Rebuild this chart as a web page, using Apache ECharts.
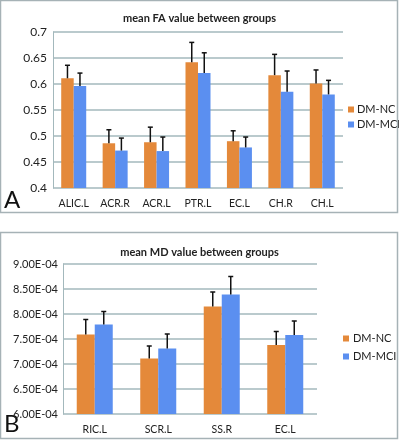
<!DOCTYPE html>
<html>
<head>
<meta charset="utf-8">
<script src="https://cdn.jsdelivr.net/npm/echarts@6/dist/echarts.min.js"></script>
<style>
  html, body { margin: 0; padding: 0; background: #fff; }
  #main { width: 399px; height: 440px; }
</style>
</head>
<body>
<div id="main"></div>
<script>
// panel A: mean FA
var faCats = ['ALIC.L', 'ACR.R', 'ACR.L', 'PTR.L', 'EC.L', 'CH.R', 'CH.L'];
var faNC = [0.611, 0.486, 0.488, 0.642, 0.490, 0.617, 0.601];
var faNCErr = [0.636, 0.512, 0.517, 0.680, 0.510, 0.657, 0.627];
var faMCI = [0.596, 0.472, 0.471, 0.621, 0.478, 0.585, 0.580];
var faMCIErr = [0.621, 0.496, 0.498, 0.660, 0.498, 0.625, 0.607];

// panel B: mean MD
var mdCats = ['RIC.L', 'SCR.L', 'SS.R', 'EC.L'];
var mdNC = [7.59e-4, 7.11e-4, 8.15e-4, 7.38e-4];
var mdNCErr = [7.89e-4, 7.36e-4, 8.44e-4, 7.65e-4];
var mdMCI = [7.79e-4, 7.31e-4, 8.39e-4, 7.58e-4];
var mdMCIErr = [8.05e-4, 7.60e-4, 8.75e-4, 7.86e-4];

var orange = '#E4893A';
var blue = '#5B8FF0';
var gridColor = '#A3B8BC';
var font = 'Lato';

var chart = echarts.init(document.getElementById('main'), null, { renderer: 'canvas' });

// upper error whisker, shifted to the bar centre
function errSeries(name, mean, upper, xi, yi, shift) {
  var d = [];
  for (var i = 0; i < mean.length; i++) d.push([i, mean[i], upper[i]]);
  return {
    name: name,
    type: 'custom',
    xAxisIndex: xi,
    yAxisIndex: yi,
    z: 5,
    silent: true,
    renderItem: function (params, api) {
      var p0 = api.coord([api.value(0), api.value(1)]);
      var p1 = api.coord([api.value(0), api.value(2)]);
      var x = p0[0] + shift;
      var st = { stroke: '#111', lineWidth: 1.5 };
      return {
        type: 'group',
        children: [
          { type: 'line', shape: { x1: x, y1: p0[1], x2: x, y2: p1[1] }, style: st },
          { type: 'line', shape: { x1: x - 2.5, y1: p1[1], x2: x + 2.5, y2: p1[1] }, style: st }
        ]
      };
    },
    data: d
  };
}

var bwA = 12.5, bwB = 18;

var option = {
  backgroundColor: '#fff',
  animation: false,
  textStyle: { fontFamily: font },
  title: [
    { text: 'mean FA value between groups', left: 'center', top: 8,
      textStyle: { fontSize: 11, fontWeight: 'bold', color: '#222', fontFamily: font } },
    { text: 'mean MD value between groups', left: 'center', top: 242,
      textStyle: { fontSize: 11, fontWeight: 'bold', color: '#222', fontFamily: font } }
  ],
  legend: [
    { data: ['DM-NC', 'DM-MCI'], orient: 'vertical', left: 343, top: 99, itemGap: 4,
      itemWidth: 6, itemHeight: 6, icon: 'rect',
      textStyle: { fontSize: 11, color: '#222', padding: [0, 0, 0, -2] } },
    { data: ['DM-NC', 'DM-MCI'], orient: 'vertical', left: 338, top: 328, itemGap: 7,
      itemWidth: 6, itemHeight: 6, icon: 'rect',
      textStyle: { fontSize: 11, color: '#222', padding: [0, 0, 0, -1] } }
  ],
  grid: [
    { left: 53, top: 32, width: 290, height: 156 },
    { left: 63, top: 264, width: 254, height: 150 }
  ],
  xAxis: [
    { type: 'category', gridIndex: 0, data: faCats,
      axisLine: { show: false }, axisTick: { show: false },
      axisLabel: { fontSize: 10.5, color: '#222', margin: 10 } },
    { type: 'category', gridIndex: 1, data: mdCats,
      axisLine: { show: false }, axisTick: { show: false },
      axisLabel: { fontSize: 10.5, color: '#222', margin: 10 } }
  ],
  yAxis: [
    { type: 'value', gridIndex: 0, min: 0.4, max: 0.7, interval: 0.05,
      axisLine: { show: true, lineStyle: { color: gridColor, width: 1 } },
      axisTick: { show: false },
      splitLine: { lineStyle: { color: gridColor, width: 1.5 } },
      axisLabel: { fontSize: 12, color: '#222', margin: 6,
        formatter: function (v) { return String(+v.toFixed(2)); } } },
    { type: 'value', gridIndex: 1, min: 6e-4, max: 9e-4, interval: 0.5e-4,
      axisLine: { show: true, lineStyle: { color: gridColor, width: 1 } },
      axisTick: { show: false },
      splitLine: { lineStyle: { color: gridColor, width: 1.5 } },
      axisLabel: { fontSize: 11, color: '#222', margin: 5,
        formatter: function (v) {
          var s = v.toExponential(2).toUpperCase();
          return s.replace(/E([+-])(\d)$/, 'E$10$2');
        } } }
  ],
  series: [
    { name: 'DM-NC', type: 'bar', xAxisIndex: 0, yAxisIndex: 0, barWidth: bwA, barGap: '0%',
      itemStyle: { color: orange }, data: faNC },
    { name: 'DM-MCI', type: 'bar', xAxisIndex: 0, yAxisIndex: 0, barWidth: bwA, barGap: '0%',
      itemStyle: { color: blue }, data: faMCI },
    { name: 'DM-NC', type: 'bar', xAxisIndex: 1, yAxisIndex: 1, barWidth: bwB, barGap: '0%',
      itemStyle: { color: orange }, data: mdNC },
    { name: 'DM-MCI', type: 'bar', xAxisIndex: 1, yAxisIndex: 1, barWidth: bwB, barGap: '0%',
      itemStyle: { color: blue }, data: mdMCI },
    errSeries('errA1', faNC, faNCErr, 0, 0, -bwA / 2),
    errSeries('errA2', faMCI, faMCIErr, 0, 0, bwA / 2),
    errSeries('errB1', mdNC, mdNCErr, 1, 1, -bwB / 2),
    errSeries('errB2', mdMCI, mdMCIErr, 1, 1, bwB / 2)
  ],
  graphic: [
    { type: 'rect', shape: { x: 0.5, y: 0.5, width: 397, height: 212 },
      style: { fill: null, stroke: '#A6B2B6', lineWidth: 1.5 } },
    { type: 'rect', shape: { x: 0.5, y: 232.5, width: 397, height: 206 },
      style: { fill: null, stroke: '#A6B2B6', lineWidth: 1.5 } },
    { type: 'text', left: 4, top: 188, style: { text: 'A', fontSize: 24, fill: '#111', fontFamily: font } },
    { type: 'text', left: 4, top: 412, style: { text: 'B', fontSize: 24, fill: '#111', fontFamily: font } }
  ]
};
chart.setOption(option);
</script>
</body>
</html>
